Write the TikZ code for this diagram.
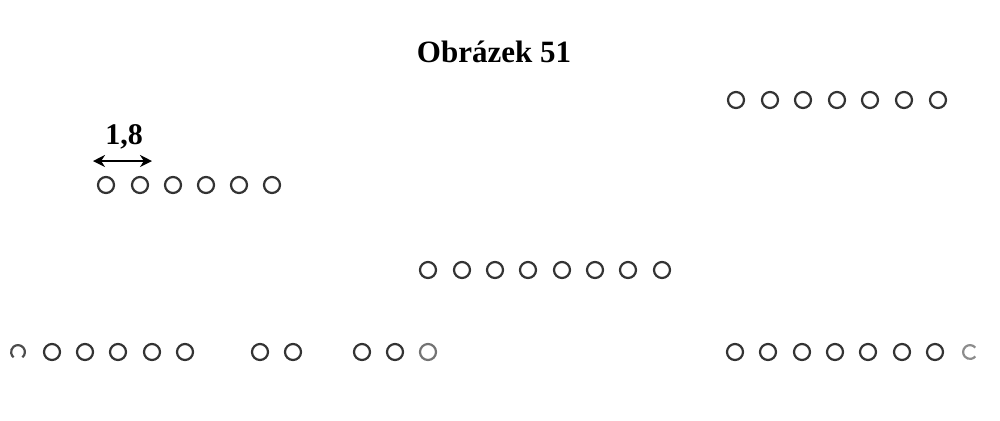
\documentclass[tikz,border=0pt]{standalone}
\usepackage{fontspec}
\setmainfont{Liberation Serif}
\usetikzlibrary{arrows.meta}
\begin{document}
\begin{tikzpicture}[x=0.5pt,y=-0.5pt,
  hole/.style={circle,draw=black!80,line width=1.1pt,minimum size=8pt,inner sep=0pt},
  faint/.style={hole,draw=black!55},
  dim/.style={line width=1.4pt,{Stealth[length=6pt,width=6pt]}-{Stealth[length=6pt,width=6pt]}}]
\useasboundingbox (0,0) rectangle (1000,420);
\node[font=\bfseries\fontsize{15.5}{18}\selectfont] (title) at (494,52) {Obrázek 51};
% row A
\foreach \x [count=\i] in {106,140,173,206,239,272} \node[hole] (a\i) at (\x,185) {};
\node[font=\bfseries\fontsize{15}{17}\selectfont] (lab) at (124,137) {1,8};
\coordinate (d1) at (93,161);
\coordinate (d2) at (152,161);
\draw[dim] (d1) -- (d2);
% row B
\foreach \x [count=\i] in {736,770,803,837,870,904,938} \node[hole] (b\i) at (\x,100) {};
% row C
\foreach \x [count=\i] in {428,462,495,528,562,595,628,662} \node[hole] (c\i) at (\x,270) {};
% row D
\draw[black!70,line width=1.1pt] (18,352) ++(-50:3.45pt) arc[start angle=-50,end angle=230,radius=3.45pt];
\coordinate (d0) at (18,352);
\foreach \x [count=\i] in {52,85,118,152,185,260,293,362,395} \node[hole] (dd\i) at (\x,352) {};
\node[faint] (dd10) at (428,352) {};
% row E
\foreach \x [count=\i] in {735,768,802,835,868,902,935} \node[hole] (e\i) at (\x,352) {};
\draw[black!45,line width=1.1pt] (970,352) ++(40:3.45pt) arc[start angle=40,end angle=320,radius=3.45pt];
\coordinate (e8) at (970,352);
\end{tikzpicture}
\end{document}
